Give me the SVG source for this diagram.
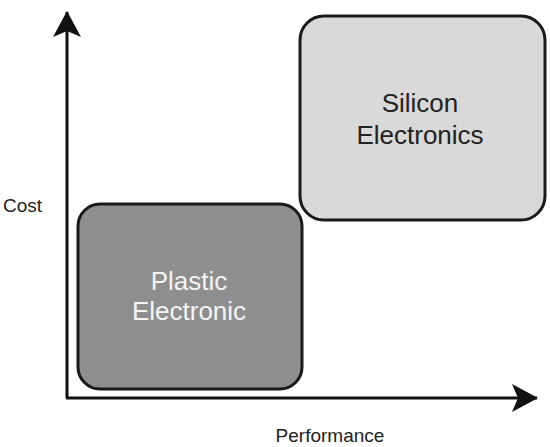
<svg xmlns="http://www.w3.org/2000/svg" width="550" height="447" viewBox="0 0 550 447">
<style>
.box{stroke:#1a1a1a;stroke-width:3}
.lbl{font-family:"Liberation Sans",Arial,sans-serif;font-size:26px;text-anchor:middle}
.ax{font-family:"Liberation Sans",Arial,sans-serif;font-size:19px;fill:#222}
.axis{stroke:#111;stroke-width:3;fill:none}
</style>
<defs>
<marker id="ah" viewBox="0 0 26 28" refX="25" refY="14" markerWidth="26" markerHeight="28" markerUnits="userSpaceOnUse" orient="auto">
<path d="M0,0 L26,14 L0,28 L6,14 Z" fill="#111"/>
</marker>
</defs>
<rect width="550" height="447" fill="#fff"/>
<g id="connectors">
<path class="axis" d="M67,398 V12" marker-end="url(#ah)"/>
<path class="axis" d="M66,398 H537" marker-end="url(#ah)"/>
</g>
<g id="silicon">
<rect class="box" x="300" y="16" width="245" height="204" rx="24" fill="#d9d9d9"/>
<text class="lbl" x="420" y="112" fill="#222">Silicon</text>
<text class="lbl" x="420" y="144" fill="#222">Electronics</text>
</g>
<g id="plastic">
<rect class="box" x="78" y="204" width="224" height="185" rx="22" fill="#8e8e8e"/>
<text class="lbl" x="189" y="290" fill="#f4f4f4">Plastic</text>
<text class="lbl" x="189" y="320" fill="#f4f4f4">Electronic</text>
</g>
<g id="axis-labels">
<text class="ax" x="3" y="212">Cost</text>
<text class="ax" x="330" y="442" text-anchor="middle">Performance</text>
</g>
</svg>
